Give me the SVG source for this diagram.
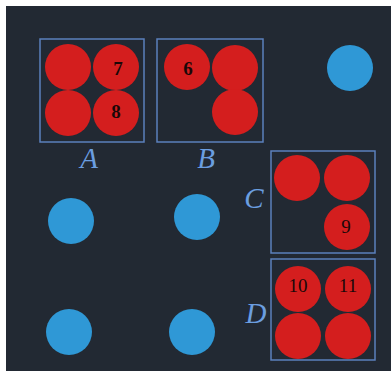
<svg xmlns="http://www.w3.org/2000/svg" width="391" height="373" viewBox="0 0 391 373">
<style>
.box{fill:none;stroke:#5b80bd;stroke-width:1.5}
.red{fill:#d41e1e}
.blue{fill:#2f98d6}
.num{font-family:"Liberation Serif",serif;font-size:19px;fill:#1a0808;text-anchor:middle}
.b{font-weight:bold}
.lbl{font-family:"Liberation Serif",serif;font-style:italic;font-size:29px;fill:#6b9ee0;text-anchor:middle}
</style>
<rect x="0" y="0" width="391" height="373" fill="#ffffff"/>
<rect x="6" y="6" width="385" height="365" fill="#222933"/>
<g id="A">
<rect class="box" x="40" y="39" width="104" height="103"/>
<circle class="red" cx="68" cy="67" r="23"/>
<circle class="red" cx="116" cy="67" r="23"/>
<circle class="red" cx="68" cy="113" r="23"/>
<circle class="red" cx="116" cy="113" r="23"/>
<text class="num b" x="118" y="75">7</text>
<text class="num b" x="116" y="118">8</text>
<text class="lbl" x="89" y="168">A</text>
</g>
<g id="B">
<rect class="box" x="157" y="39" width="106" height="103"/>
<circle class="red" cx="187" cy="67" r="23"/>
<circle class="red" cx="235" cy="68" r="23"/>
<circle class="red" cx="235" cy="112" r="23"/>
<text class="num b" x="188" y="75">6</text>
<text class="lbl" x="206" y="168">B</text>
</g>
<g id="C">
<rect class="box" x="271" y="151" width="104" height="102"/>
<circle class="red" cx="297" cy="178" r="23"/>
<circle class="red" cx="347" cy="178" r="23"/>
<circle class="red" cx="347" cy="227" r="23"/>
<text class="num" x="346" y="233">9</text>
<text class="lbl" x="254" y="208">C</text>
</g>
<g id="D">
<rect class="box" x="271" y="259" width="104" height="101"/>
<circle class="red" cx="298" cy="289" r="23"/>
<circle class="red" cx="348" cy="289" r="23"/>
<circle class="red" cx="298" cy="336" r="23"/>
<circle class="red" cx="348" cy="336" r="23"/>
<text class="num" x="298" y="292">10</text>
<text class="num" x="348" y="292">11</text>
<text class="lbl" x="256" y="323">D</text>
</g>
<g id="blue1"><circle class="blue" cx="350" cy="68" r="23"/></g>
<g id="blue2"><circle class="blue" cx="71" cy="221" r="23"/></g>
<g id="blue3"><circle class="blue" cx="197" cy="217" r="23"/></g>
<g id="blue4"><circle class="blue" cx="69" cy="332" r="23"/></g>
<g id="blue5"><circle class="blue" cx="192" cy="332" r="23"/></g>
<g id="connectors"/>
</svg>
